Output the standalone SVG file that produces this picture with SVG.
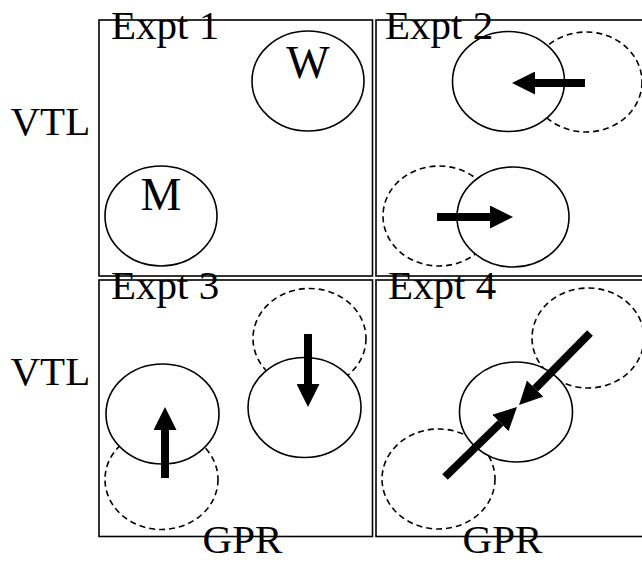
<svg xmlns="http://www.w3.org/2000/svg" width="642" height="562" viewBox="0 0 642 562">
<style>
.panel{fill:none;stroke:#000;stroke-width:1.6}
.solid{fill:#fff;stroke:#000;stroke-width:1.6}
.dash{fill:#fff;stroke:#000;stroke-width:1.6;stroke-dasharray:6 4}
.arr{stroke:#000;stroke-width:8;fill:none;marker-end:url(#head)}
text{font-family:"Liberation Serif","Times New Roman",serif;fill:#000}
.lbl{font-size:41px}
.big{font-size:46px;text-anchor:middle}
</style>
<defs>
<marker id="head" viewBox="0 0 23 23" refX="0" refY="11.5" markerWidth="23" markerHeight="23" markerUnits="userSpaceOnUse" orient="auto">
<path d="M0,0 L23,11.5 L0,23 z" fill="#000"/>
</marker>
</defs>
<g id="axis-labels">
<text class="lbl" x="10.5" y="135">VTL</text>
<text class="lbl" x="10.5" y="385">VTL</text>
<text class="lbl" x="242.5" y="553" text-anchor="middle">GPR</text>
<text class="lbl" x="502.5" y="553" text-anchor="middle">GPR</text>
</g>
<g id="expt1">
<rect class="panel" x="99" y="20" width="273.5" height="256"/>
<ellipse class="solid" cx="308" cy="81" rx="56" ry="50"/>
<ellipse class="solid" cx="161" cy="216" rx="56" ry="50"/>
<text class="big" x="308" y="77.5">W</text>
<text class="big" x="161" y="210">M</text>
<text class="lbl" x="111" y="39">Expt 1</text>
</g>
<g id="expt2">
<rect class="panel" x="376" y="20" width="270" height="256"/>
<ellipse class="dash" cx="586" cy="82" rx="56" ry="50"/>
<ellipse class="solid" cx="508.5" cy="81.5" rx="56" ry="50"/>
<ellipse class="dash" cx="439" cy="216" rx="56" ry="50"/>
<ellipse class="solid" cx="513" cy="217" rx="56" ry="50"/>
<text class="lbl" x="385" y="39">Expt 2</text>
</g>
<g id="expt3">
<rect class="panel" x="99" y="280" width="273.5" height="256.5"/>
<ellipse class="dash" cx="161.5" cy="479.5" rx="56.5" ry="50"/>
<ellipse class="solid" cx="162.5" cy="414" rx="56.5" ry="50"/>
<ellipse class="dash" cx="309.5" cy="338.5" rx="56.5" ry="50"/>
<ellipse class="solid" cx="304.5" cy="407.5" rx="56.5" ry="50"/>
<text class="lbl" x="111" y="299">Expt 3</text>
</g>
<g id="expt4">
<rect class="panel" x="376" y="280" width="270" height="256.5"/>
<ellipse class="dash" cx="588" cy="338" rx="56" ry="50"/>
<ellipse class="dash" cx="438.5" cy="479" rx="56.5" ry="50"/>
<ellipse class="solid" cx="516" cy="412" rx="56.5" ry="50"/>
<text class="lbl" x="388" y="299">Expt 4</text>
</g>
<g id="connectors">
<line class="arr" x1="585" y1="83" x2="535" y2="83"/>
<line class="arr" x1="437" y1="217" x2="490" y2="217"/>
<line class="arr" x1="165" y1="478" x2="165" y2="430"/>
<line class="arr" x1="308" y1="334" x2="308" y2="384"/>
<line class="arr" x1="590" y1="333" x2="535.2" y2="388.6"/>
<line class="arr" x1="445" y1="477" x2="500.5" y2="423"/>
</g>
</svg>
